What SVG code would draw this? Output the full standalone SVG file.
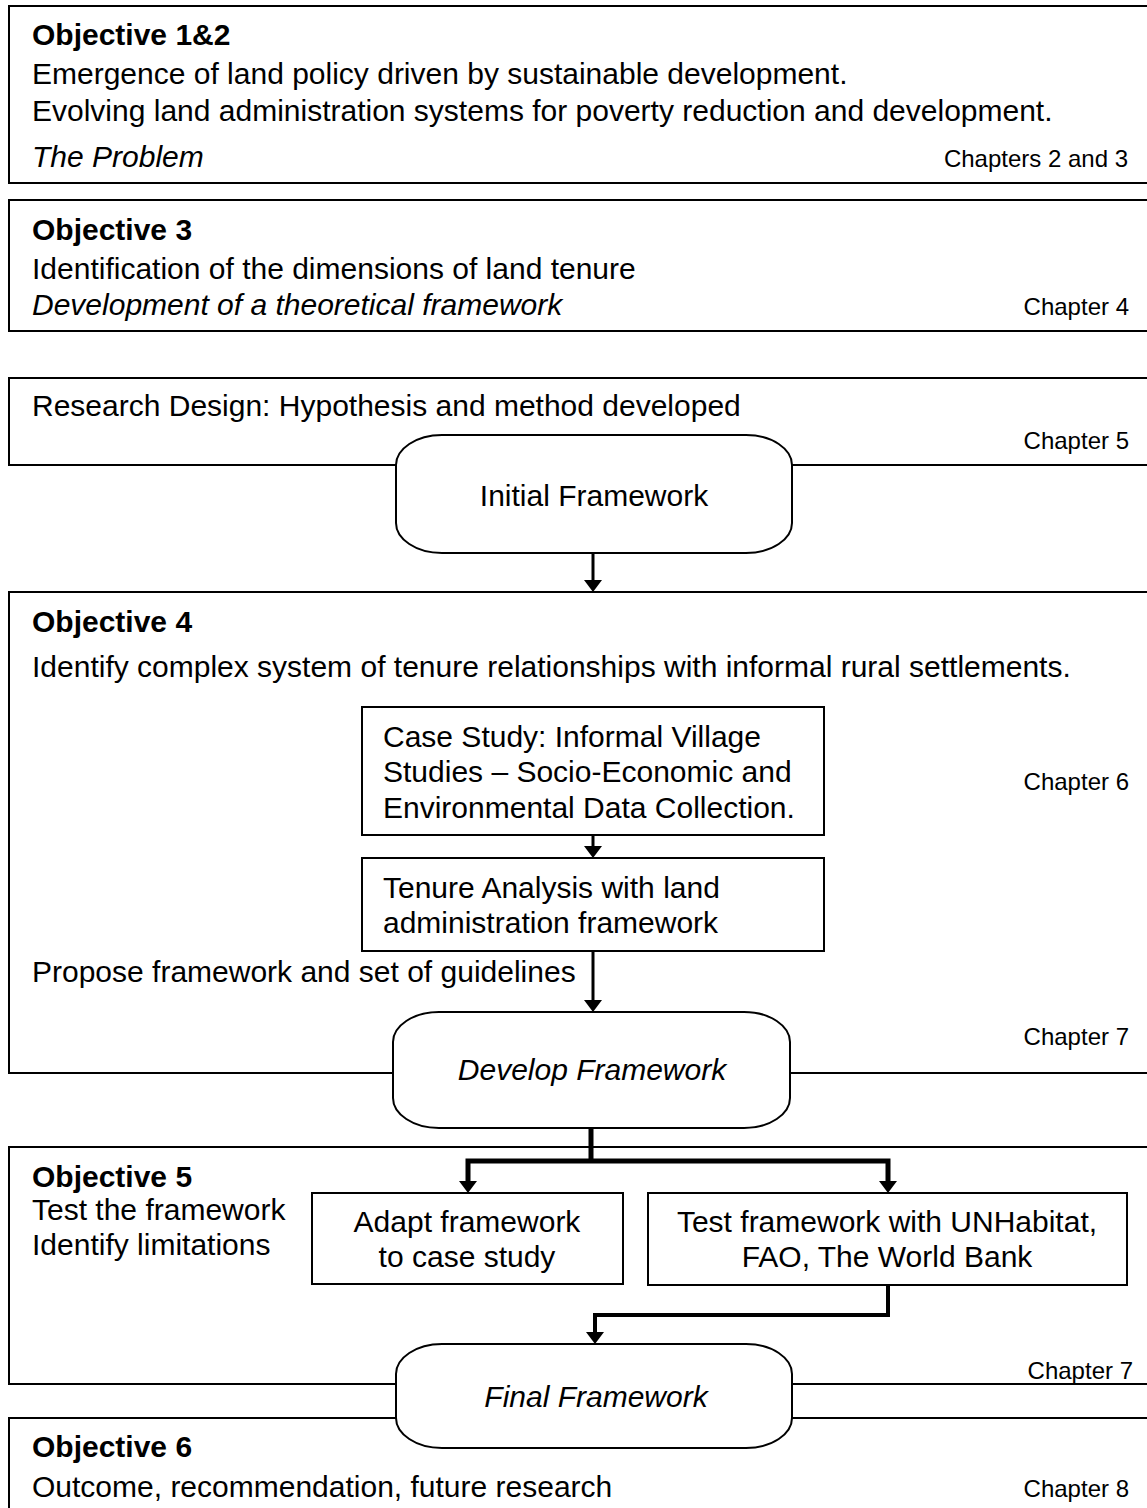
<svg xmlns="http://www.w3.org/2000/svg" width="1147" height="1508" viewBox="0 0 1147 1508">
  <style>
    .box { fill: none; stroke: #000; stroke-width: 2; }
    .sub { fill: #fff; stroke: #000; stroke-width: 2; }
    .term { fill: #fff; stroke: #000; stroke-width: 2; }
    .t { font-family: "Liberation Sans", Arial, sans-serif; font-size: 30px; fill: #000; }
    .b { font-weight: bold; }
    .i { font-style: italic; }
    .ch { font-family: "Liberation Sans", Arial, sans-serif; font-size: 24px; fill: #000; text-anchor: end; }
    .c { text-anchor: middle; }
    .line { fill: none; stroke: #000; stroke-width: 3; }
    .thick { fill: none; stroke: #000; stroke-width: 5; }
    .mid { fill: none; stroke: #000; stroke-width: 4; }
    .head { fill: #000; }
  </style>
  <defs>
    <path id="head" d="M-9,-12 L9,-12 L0,0 Z"/>
  </defs>
  <rect width="1147" height="1508" fill="#fff"/>

  <!-- Objective 1&2 -->
  <g id="obj12">
    <rect class="box" x="9" y="6" width="1160" height="177"/>
    <text class="t b" x="32" y="45">Objective 1&amp;2</text>
    <text class="t" x="32" y="84">Emergence of land policy driven by sustainable development.</text>
    <text class="t" x="32" y="121">Evolving land administration systems for poverty reduction and development.</text>
    <text class="t i" x="32" y="167">The Problem</text>
    <text class="ch" x="1128" y="167">Chapters 2 and 3</text>
  </g>

  <!-- Objective 3 -->
  <g id="obj3">
    <rect class="box" x="9" y="200" width="1160" height="131"/>
    <text class="t b" x="32" y="240">Objective 3</text>
    <text class="t" x="32" y="279">Identification of the dimensions of land tenure</text>
    <text class="t i" x="32" y="315">Development of a theoretical framework</text>
    <text class="ch" x="1129" y="315">Chapter 4</text>
  </g>

  <!-- Research design -->
  <g id="design">
    <rect class="box" x="9" y="378" width="1160" height="87"/>
    <text class="t" x="32" y="416">Research Design: Hypothesis and method developed</text>
    <text class="ch" x="1129" y="449">Chapter 5</text>
  </g>

  <!-- Objective 4 -->
  <g id="obj4">
    <rect class="box" x="9" y="592" width="1160" height="481"/>
    <text class="t b" x="32" y="632">Objective 4</text>
    <text class="t" x="32" y="677">Identify complex system of tenure relationships with informal rural settlements.</text>
    <text class="t" x="32" y="982">Propose framework and set of guidelines</text>
    <text class="ch" x="1129" y="790">Chapter 6</text>
    <text class="ch" x="1129" y="1045">Chapter 7</text>
  </g>

  <g id="casestudy">
    <rect class="sub" x="362" y="707" width="462" height="128"/>
    <text class="t" x="383" y="747">Case Study: Informal Village</text>
    <text class="t" x="383" y="782">Studies – Socio-Economic and</text>
    <text class="t" x="383" y="818">Environmental Data Collection.</text>
  </g>

  <g id="tenure">
    <rect class="sub" x="362" y="858" width="462" height="93"/>
    <text class="t" x="383" y="898">Tenure Analysis with land</text>
    <text class="t" x="383" y="933">administration framework</text>
  </g>

  <!-- Objective 5 -->
  <g id="obj5">
    <rect class="box" x="9" y="1147" width="1160" height="237"/>
    <text class="t b" x="32" y="1187">Objective 5</text>
    <text class="t" x="32" y="1220">Test the framework</text>
    <text class="t" x="32" y="1255">Identify limitations</text>
    <text class="ch" x="1133" y="1379">Chapter 7</text>
  </g>

  <g id="adapt">
    <rect class="sub" x="312" y="1193" width="311" height="91"/>
    <text class="t c" x="467" y="1232">Adapt framework</text>
    <text class="t c" x="467" y="1267">to case study</text>
  </g>

  <g id="testfw">
    <rect class="sub" x="648" y="1193" width="479" height="92"/>
    <text class="t c" x="887" y="1232">Test framework with UNHabitat,</text>
    <text class="t c" x="887" y="1267">FAO, The World Bank</text>
  </g>

  <!-- Objective 6 -->
  <g id="obj6">
    <rect class="box" x="9" y="1418" width="1160" height="120"/>
    <text class="t b" x="32" y="1457">Objective 6</text>
    <text class="t" x="32" y="1497">Outcome, recommendation, future research</text>
    <text class="ch" x="1129" y="1497">Chapter 8</text>
  </g>

  <!-- Terminals -->
  <g id="initial">
    <path class="term" d="M442,435 H746 C772,435 792,449 792,465 V523 C792,539 772,553 746,553 H442 C416,553 396,539 396,523 V465 C396,449 416,435 442,435 Z"/>
    <text class="t c" x="594" y="506">Initial Framework</text>
  </g>

  <g id="develop">
    <path class="term" d="M439,1012 H744 C770,1012 790,1026 790,1042 V1098 C790,1114 770,1128 744,1128 H439 C413,1128 393,1114 393,1098 V1042 C393,1026 413,1012 439,1012 Z"/>
    <text class="t i c" x="592" y="1080">Develop Framework</text>
  </g>

  <g id="final">
    <path class="term" d="M442,1344 H746 C772,1344 792,1358 792,1374 V1418 C792,1434 772,1448 746,1448 H442 C416,1448 396,1434 396,1418 V1374 C396,1358 416,1344 442,1344 Z"/>
    <text class="t i c" x="596" y="1407">Final Framework</text>
  </g>

  <!-- Connectors -->
  <g id="connectors">
    <path class="line" d="M593,553 V582"/>
    <use class="head" href="#head" x="593" y="592"/>

    <path class="line" d="M593,835 V848"/>
    <use class="head" href="#head" x="593" y="858"/>

    <path class="line" d="M593,951 V1002"/>
    <use class="head" href="#head" x="593" y="1012"/>

    <path class="thick" d="M591,1128 V1161 M468,1183 V1161 H888 V1183"/>
    <use class="head" href="#head" x="468" y="1193"/>
    <use class="head" href="#head" x="888" y="1193"/>

    <path class="mid" d="M888,1285 V1315 H595 V1334"/>
    <use class="head" href="#head" x="595" y="1344"/>
  </g>
</svg>
